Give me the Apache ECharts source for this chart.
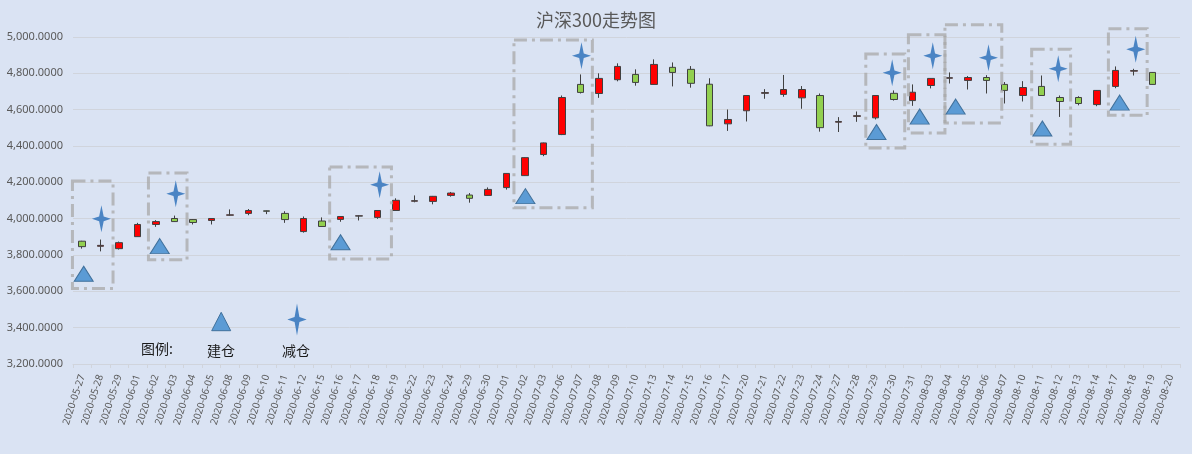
<!DOCTYPE html>
<html>
<head>
<meta charset="utf-8">
<title>沪深300走势图</title>
<script src="https://cdn.jsdelivr.net/npm/echarts@6/dist/echarts.min.js"></script>
<style>
  html, body { margin: 0; padding: 0; background: #dae3f3; }
  #result { width: 1192px; height: 454px; }
</style>
</head>
<body>
<div id="result"></div>
<script>
// ---- 数据 ----
var dates = ['2020-05-27', '2020-05-28', '2020-05-29', '2020-06-01', '2020-06-02', '2020-06-03',
    '2020-06-04', '2020-06-05', '2020-06-08', '2020-06-09', '2020-06-10', '2020-06-11',
    '2020-06-12', '2020-06-15', '2020-06-16', '2020-06-17', '2020-06-18', '2020-06-19',
    '2020-06-22', '2020-06-23', '2020-06-24', '2020-06-29', '2020-06-30', '2020-07-01',
    '2020-07-02', '2020-07-03', '2020-07-06', '2020-07-07', '2020-07-08', '2020-07-09',
    '2020-07-10', '2020-07-13', '2020-07-14', '2020-07-15', '2020-07-16', '2020-07-17',
    '2020-07-20', '2020-07-21', '2020-07-22', '2020-07-23', '2020-07-24', '2020-07-27',
    '2020-07-28', '2020-07-29', '2020-07-30', '2020-07-31', '2020-08-03', '2020-08-04',
    '2020-08-05', '2020-08-06', '2020-08-07', '2020-08-10', '2020-08-11', '2020-08-12',
    '2020-08-13', '2020-08-14', '2020-08-17', '2020-08-18', '2020-08-19', '2020-08-20'];

// [开盘, 收盘, 最低, 最高]
var kData = [
    [3876, 3846, 3835, 3878], [3848, 3853, 3820, 3885], [3835, 3868, 3830, 3874],
    [3901, 3968, 3900, 3977], [3968, 3984, 3955, 3992], [4001, 3984, 3982, 4017],
    [3995, 3979, 3968, 3998], [3990, 4001, 3968, 4003], [4019, 4021, 4016, 4051],
    [4029, 4045, 4019, 4053], [4043, 4041, 4025, 4045], [4029, 3995, 3977, 4041],
    [3929, 4001, 3923, 4012], [3987, 3957, 3955, 4007], [3996, 4012, 3983, 4014],
    [4014, 4016, 3990, 4018], [4007, 4045, 3999, 4047], [4045, 4101, 4043, 4112],
    [4096, 4099, 4090, 4128], [4095, 4123, 4079, 4125], [4128, 4141, 4121, 4147],
    [4130, 4112, 4088, 4141], [4128, 4161, 4126, 4172], [4171, 4249, 4160, 4251],
    [4237, 4336, 4235, 4338], [4353, 4417, 4344, 4419], [4463, 4667, 4460, 4678],
    [4739, 4695, 4689, 4794], [4689, 4772, 4665, 4800], [4765, 4838, 4756, 4855],
    [4794, 4750, 4732, 4822], [4739, 4849, 4737, 4877], [4833, 4805, 4728, 4860],
    [4822, 4745, 4721, 4840], [4740, 4511, 4509, 4773], [4522, 4546, 4483, 4601],
    [4594, 4678, 4535, 4680], [4690, 4694, 4660, 4713], [4684, 4711, 4671, 4791],
    [4665, 4711, 4605, 4730], [4678, 4501, 4479, 4689], [4531, 4535, 4477, 4559],
    [4563, 4567, 4533, 4590], [4555, 4678, 4546, 4680], [4690, 4656, 4650, 4706],
    [4650, 4696, 4621, 4739], [4733, 4772, 4717, 4774], [4773, 4776, 4744, 4805],
    [4761, 4777, 4711, 4785], [4777, 4761, 4689, 4790], [4739, 4706, 4634, 4752],
    [4678, 4722, 4645, 4757], [4728, 4678, 4676, 4788], [4667, 4645, 4560, 4678],
    [4667, 4634, 4624, 4674], [4628, 4706, 4619, 4708], [4728, 4816, 4718, 4838],
    [4812, 4815, 4788, 4825], [4805, 4739, 4737, 4807], '-'
];

// 建仓 标记 (x 为日期序号)
var buyX = [0.08, 4.2, 14.0, 24.02, 43.05, 45.39, 47.34, 52.04, 56.23];
var buyY = [3697, 3849, 3870, 4124, 4477, 4562, 4617, 4496, 4639];

// 减仓 标记
var sellX = [1.04, 5.07, 16.12, 27.06, 43.9, 46.1, 49.12, 52.9, 57.1];
var sellY = [3999, 4137, 4187, 4897, 4803, 4897, 4886, 4825, 4932];

// 虚线框 [x0, y0, x1, y1]
var boxes = [
    [-0.53, 3616, 1.67, 4207], [3.59, 3774, 5.68, 4251], [13.41, 3778, 16.76, 4284],
    [23.4, 4060, 27.65, 4983], [42.47, 4389, 44.58, 4906], [44.78, 4472, 46.76, 5013],
    [46.76, 4527, 49.84, 5068], [51.46, 4409, 53.57, 4932], [55.62, 4569, 57.72, 5046]
];

var yMin = 3200, yMax = 5000, yStep = 200;

function pair(xs, ys) {
    return xs.map(function (x, k) { return [x, ys[k]]; });
}

function fmt(v) {
    var parts = v.toFixed(4).split('.');
    parts[0] = parts[0].replace(/\B(?=(\d{3})+(?!\d))/g, ',');
    return parts.join('.');
}

var starPath = 'path://M0,-14 L2.4,-2.4 L10,0 L2.4,2.4 L0,14 L-2.4,2.4 L-10,0 L-2.4,-2.4 Z';
var labelFont = "'Noto Sans', 'Noto Sans CJK SC', sans-serif";
var cjkFont = "'Noto Sans CJK SC', sans-serif";

var option = {
    backgroundColor: '#dae3f3',
    animation: false,
    // ---- 标题 ----
    title: {
        text: '沪深300走势图',
        left: 'center',
        top: 6,
        textStyle: { color: '#595959', fontSize: 18, fontWeight: 'normal', fontFamily: cjkFont }
    },
    grid: { left: 73, right: 12, top: 37, bottom: 90 },
    xAxis: [
        {
            type: 'category',
            data: dates,
            boundaryGap: true,
            axisLine: { lineStyle: { color: '#d0d4dc', width: 1 } },
            axisTick: { show: true, length: 4, lineStyle: { color: '#d0d4dc' } },
            axisLabel: {
                rotate: 72,
                interval: 0,
                margin: 11,
                color: '#595959',
                fontSize: 10,
                fontFamily: labelFont
            },
            splitLine: { show: false }
        },
        {
            // 标记用的隐藏数值轴
            type: 'value',
            min: -0.5,
            max: dates.length - 0.5,
            show: false
        }
    ],
    yAxis: {
        type: 'value',
        min: yMin,
        max: yMax,
        interval: yStep,
        axisLine: { show: false },
        axisTick: { show: false },
        axisLabel: { color: '#595959', fontSize: 11, margin: 10, fontFamily: labelFont, formatter: fmt },
        splitLine: { lineStyle: { color: '#d0d4dc', width: 1 } }
    },
    series: [
        {
            name: '沪深300',
            type: 'candlestick',
            data: kData,
            barWidth: 7,
            itemStyle: {
                color: '#ff0000',
                color0: '#92d050',
                borderColor: '#404040',
                borderColor0: '#404040',
                borderWidth: 1
            },
            z: 2
        },
        {
            name: '虚线框',
            type: 'custom',
            xAxisIndex: 1,
            yAxisIndex: 0,
            clip: false,
            silent: true,
            data: boxes,
            encode: { x: [0, 2], y: [1, 3] },
            renderItem: function (params, api) {
                var p0 = api.coord([api.value(0), api.value(1)]);
                var p1 = api.coord([api.value(2), api.value(3)]);
                return {
                    type: 'rect',
                    shape: {
                        x: Math.min(p0[0], p1[0]),
                        y: Math.min(p0[1], p1[1]),
                        width: Math.abs(p1[0] - p0[0]),
                        height: Math.abs(p1[1] - p0[1])
                    },
                    style: {
                        fill: 'none',
                        stroke: 'rgba(168,168,168,0.75)',
                        lineWidth: 3,
                        lineDash: [13, 5, 3, 5]
                    }
                };
            },
            z: 3
        },
        {
            name: '建仓',
            type: 'scatter',
            xAxisIndex: 1,
            yAxisIndex: 0,
            data: pair(buyX, buyY),
            symbol: 'triangle',
            symbolSize: [19, 15],
            itemStyle: { color: '#5b9bd5', borderColor: '#41719c', borderWidth: 1, opacity: 1 },
            z: 4
        },
        {
            name: '减仓',
            type: 'scatter',
            xAxisIndex: 1,
            yAxisIndex: 0,
            data: pair(sellX, sellY),
            symbol: starPath,
            symbolSize: [19, 27],
            itemStyle: { color: '#4a84c4', opacity: 1 },
            z: 4
        }
    ],
    // ---- 图例 (手绘) ----
    graphic: [
        { type: 'text', z: 100, x: 157, y: 349, style: { text: '图例:', fill: '#1a1a1a', font: '14px ' + cjkFont, align: 'center', verticalAlign: 'middle' } },
        { type: 'polygon', z: 100, shape: { points: [[211.7, 330.7], [221.2, 312.3], [230.7, 330.7]] }, style: { fill: '#5b9bd5', stroke: '#41719c', lineWidth: 1 } },
        { type: 'text', z: 100, x: 221, y: 351, style: { text: '建仓', fill: '#1a1a1a', font: '14px ' + cjkFont, align: 'center', verticalAlign: 'middle' } },
        { type: 'polygon', z: 100, shape: { points: [[297, 303.5], [299.4, 317.1], [306.7, 319.5], [299.4, 321.9], [297, 335.5], [294.6, 321.9], [287.3, 319.5], [294.6, 317.1]] }, style: { fill: '#4a84c4' } },
        { type: 'text', z: 100, x: 296, y: 351, style: { text: '减仓', fill: '#1a1a1a', font: '14px ' + cjkFont, align: 'center', verticalAlign: 'middle' } }
    ]
};

var myResult = echarts.init(document.getElementById('result'));
myResult.setOption(option);
</script>
</body>
</html>
